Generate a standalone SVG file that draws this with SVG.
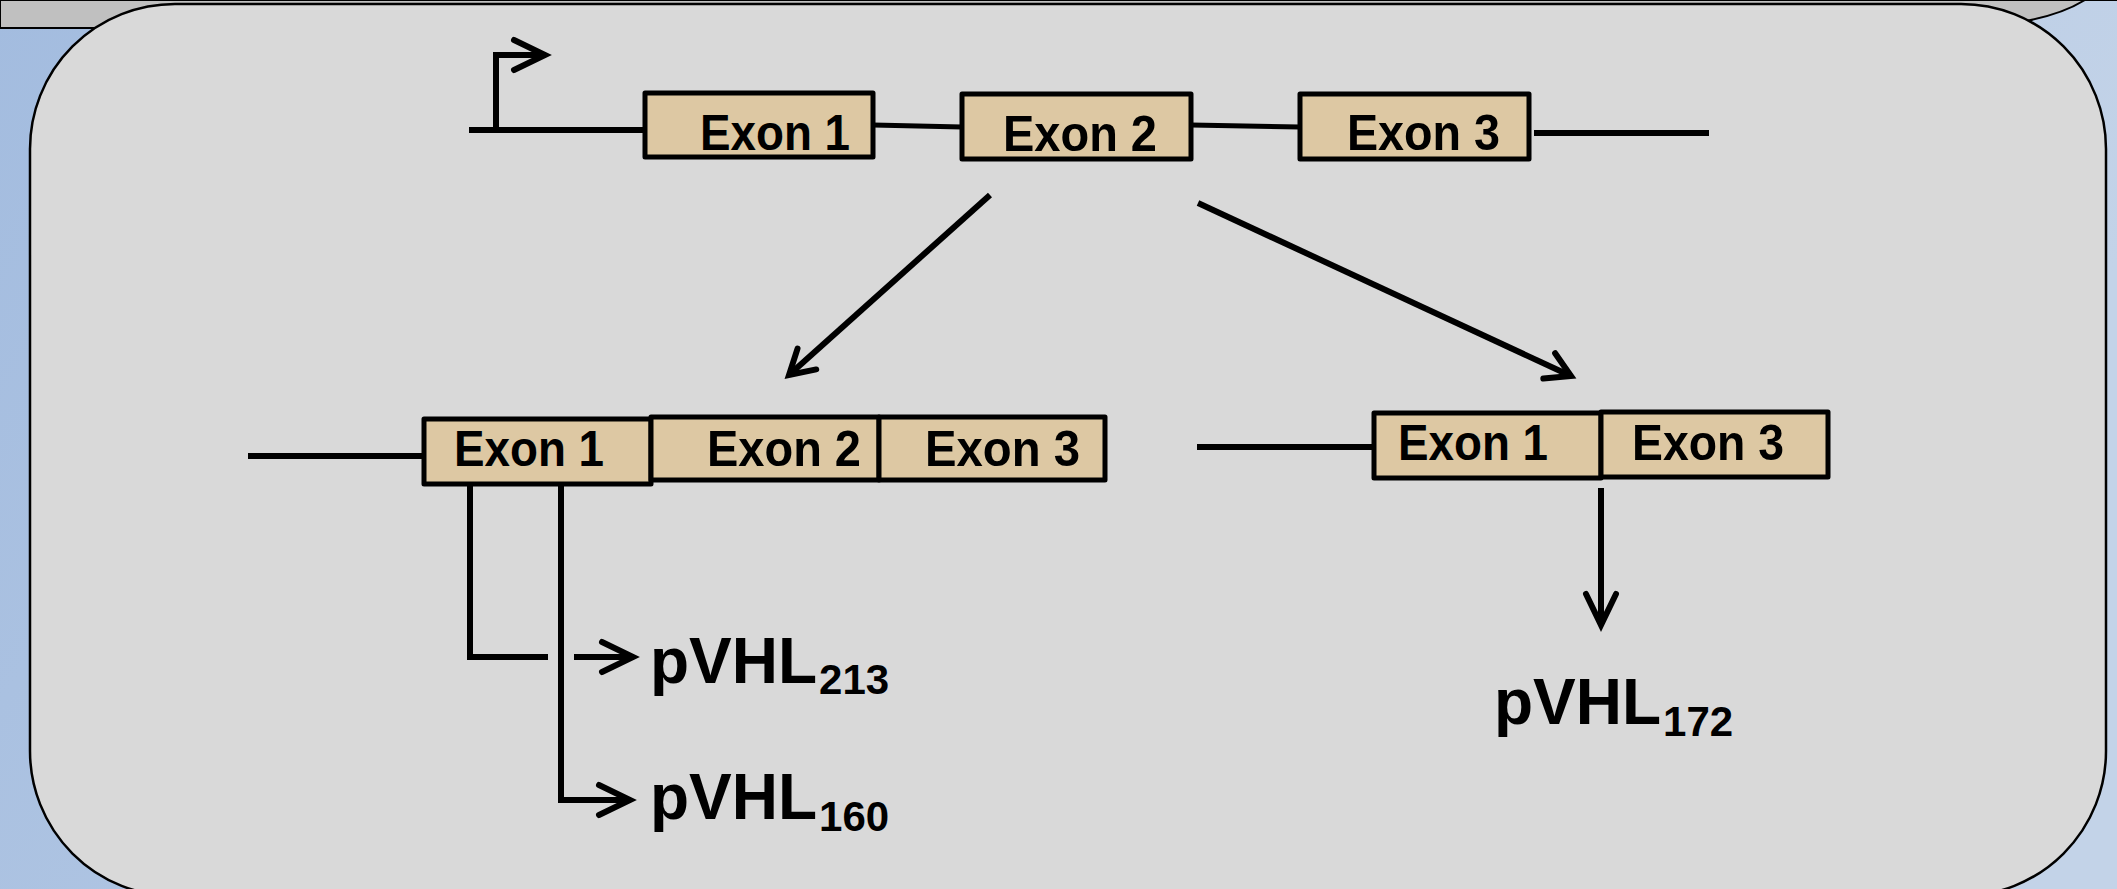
<svg xmlns="http://www.w3.org/2000/svg" width="2117" height="889" viewBox="0 0 2117 889">
  <defs>
    <linearGradient id="bgBlue" x1="0" y1="0" x2="1" y2="0.3">
      <stop offset="0" stop-color="#a3bcdf"/>
      <stop offset="1" stop-color="#c3d3e8"/>
    </linearGradient>
    <marker id="chev" markerUnits="userSpaceOnUse" viewBox="-40 -22 48 44" markerWidth="48" markerHeight="44" refX="0" refY="0" orient="auto" overflow="visible">
      <path d="M-31,-15 L0,0 L-31,15" fill="none" stroke="#000" stroke-width="6" stroke-linecap="round" stroke-linejoin="miter"/>
    </marker>
    <marker id="chevSmall" markerUnits="userSpaceOnUse" viewBox="-30 -18 36 36" markerWidth="36" markerHeight="36" refX="0" refY="0" orient="auto" overflow="visible">
      <path d="M-24,-14 L0,0 L-24,14" fill="none" stroke="#000" stroke-width="6" stroke-linecap="round" stroke-linejoin="miter"/>
    </marker>
    <style>
      .exon { fill: #ddc8a3; stroke: #000; stroke-width: 5; stroke-linejoin: round; }
      .lbl { font-family: "Liberation Sans", Arial, sans-serif; font-weight: bold; font-size: 50px; fill: #000; }
      .prot { font-family: "Liberation Sans", Arial, sans-serif; font-weight: bold; font-size: 64px; fill: #000; }
      .sub { font-size: 42px; }
      .wire { fill: none; stroke: #000; stroke-width: 6; }
      .thin { fill: none; stroke: #000; stroke-width: 5; }
    </style>
  </defs>

  <!-- backdrop -->
  <rect x="0" y="0" width="2117" height="889" fill="url(#bgBlue)"/>
  <path d="M0,0 H2117 V0 L2085,0 Q2040,28 1940,28 H0 Z" fill="#c0c0c0" stroke="#000" stroke-width="2"/>

  <!-- panel -->
  <rect id="panel" x="30" y="4" width="2076" height="892" rx="145" ry="145" fill="#d9d9d9" stroke="#000" stroke-width="2.5"/>

  <!-- connectors -->
  <g id="connectors">
    <!-- genomic backbone -->
    <line class="wire" x1="469" y1="130" x2="645" y2="130"/>
    <line class="thin" x1="873" y1="125" x2="962" y2="127"/>
    <line class="thin" x1="1191" y1="125" x2="1300" y2="127"/>
    <line class="wire" x1="1534" y1="133" x2="1709" y2="133"/>
    <!-- transcription start -->
    <path class="wire" d="M496,130 V55 H545" marker-end="url(#chev)"/>
    <!-- splicing arrows -->
    <line class="wire" x1="990" y1="195" x2="789" y2="375" marker-end="url(#chevSmall)"/>
    <line class="wire" x1="1198" y1="203" x2="1571" y2="376" marker-end="url(#chevSmall)"/>
    <!-- transcript leaders -->
    <line class="wire" x1="248" y1="456" x2="424" y2="456"/>
    <line class="wire" x1="1197" y1="447" x2="1374" y2="447"/>
    <!-- translation start sites -->
    <path class="wire" d="M470,484 V657 H548"/>
    <line class="wire" x1="574" y1="657" x2="633" y2="657" marker-end="url(#chev)"/>
    <path class="wire" d="M561,484 V800 H630" marker-end="url(#chev)"/>
    <line class="wire" x1="1601" y1="488" x2="1601" y2="625" marker-end="url(#chev)"/>
  </g>

  <!-- gene -->
  <g id="gene-exon1">
    <rect class="exon" x="645" y="93" width="228" height="64"/>
    <text class="lbl" x="700" y="150" textLength="150" lengthAdjust="spacingAndGlyphs">Exon 1</text>
  </g>
  <g id="gene-exon2">
    <rect class="exon" x="962" y="94" width="229" height="65"/>
    <text class="lbl" x="1003" y="151" textLength="154" lengthAdjust="spacingAndGlyphs">Exon 2</text>
  </g>
  <g id="gene-exon3">
    <rect class="exon" x="1300" y="94" width="229" height="65"/>
    <text class="lbl" x="1347" y="150" textLength="153" lengthAdjust="spacingAndGlyphs">Exon 3</text>
  </g>

  <!-- full-length transcript -->
  <g id="tx1-exon1">
    <rect class="exon" x="424" y="419" width="227" height="65"/>
    <text class="lbl" x="454" y="466" textLength="150" lengthAdjust="spacingAndGlyphs">Exon 1</text>
  </g>
  <g id="tx1-exon2">
    <rect class="exon" x="651" y="417" width="228" height="63"/>
    <text class="lbl" x="707" y="466" textLength="154" lengthAdjust="spacingAndGlyphs">Exon 2</text>
  </g>
  <g id="tx1-exon3">
    <rect class="exon" x="879" y="417" width="226" height="63"/>
    <text class="lbl" x="925" y="466" textLength="155" lengthAdjust="spacingAndGlyphs">Exon 3</text>
  </g>

  <!-- exon 2 skipped transcript -->
  <g id="tx2-exon1">
    <rect class="exon" x="1374" y="413" width="227" height="65"/>
    <text class="lbl" x="1398" y="460" textLength="150" lengthAdjust="spacingAndGlyphs">Exon 1</text>
  </g>
  <g id="tx2-exon3">
    <rect class="exon" x="1601" y="412" width="227" height="65"/>
    <text class="lbl" x="1632" y="460" textLength="152" lengthAdjust="spacingAndGlyphs">Exon 3</text>
  </g>

  <!-- protein isoforms -->
  <g id="pvhl213">
    <text class="prot" x="650" y="683">pVHL<tspan class="sub" dx="2" dy="11">213</tspan></text>
  </g>
  <g id="pvhl160">
    <text class="prot" x="650" y="819">pVHL<tspan class="sub" dx="2" dy="12">160</tspan></text>
  </g>
  <g id="pvhl172">
    <text class="prot" x="1494" y="724">pVHL<tspan class="sub" dx="2" dy="12">172</tspan></text>
  </g>
</svg>
